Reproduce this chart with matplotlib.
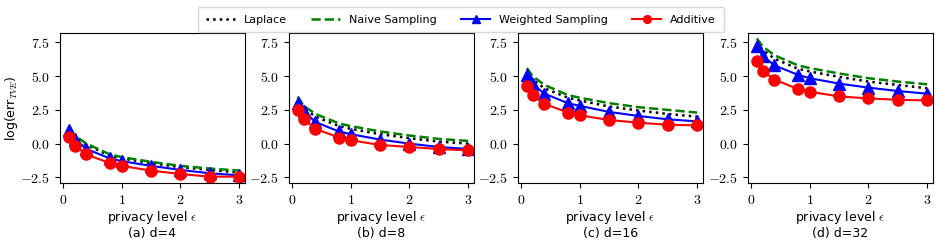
import numpy as np
import matplotlib
matplotlib.use('Agg')
import matplotlib.pyplot as plt
from matplotlib.ticker import FuncFormatter

plt.rcParams['mathtext.fontset'] = 'cm'
plt.rcParams['font.size'] = 9

eps = [0.1, 0.2, 0.4, 0.8, 1.0, 1.5, 2.0, 2.5, 3.0]
panels = ['(a) d=4', '(b) d=8', '(c) d=16', '(d) d=32']

laplace = [
    [0.95, 0.5, -0.1, -0.9, -1.1, -1.45, -1.75, -1.95, -2.15],
    [3.3, 2.6, 2.0, 1.3, 1.1, 0.7, 0.4, 0.15, 0.0],
    [5.35, 4.75, 4.1, 3.4, 3.2, 2.75, 2.45, 2.2, 2.0],
    [7.55, 6.95, 6.3, 5.55, 5.35, 4.95, 4.6, 4.35, 4.1],
]
naive = [
    [1.05, 0.6, 0.0, -0.8, -1.0, -1.35, -1.65, -1.85, -2.0],
    [3.5, 2.8, 2.2, 1.5, 1.3, 0.9, 0.6, 0.35, 0.2],
    [5.6, 5.0, 4.35, 3.6, 3.4, 3.0, 2.7, 2.5, 2.3],
    [7.8, 7.2, 6.55, 5.8, 5.6, 5.2, 4.85, 4.6, 4.4],
]
weighted = [
    [1.0, 0.35, -0.4, -1.1, -1.3, -1.65, -1.95, -2.2, -2.35],
    [3.0, 2.4, 1.6, 0.9, 0.7, 0.3, 0.0, -0.25, -0.4],
    [5.05, 4.4, 3.7, 3.0, 2.8, 2.35, 2.05, 1.8, 1.65],
    [7.2, 6.5, 5.8, 5.1, 4.85, 4.45, 4.15, 3.9, 3.7],
]
additive = [
    [0.5, -0.15, -0.8, -1.45, -1.65, -2.0, -2.25, -2.45, -2.45],
    [2.5, 1.8, 1.1, 0.45, 0.25, -0.1, -0.25, -0.4, -0.5],
    [4.3, 3.6, 2.95, 2.3, 2.1, 1.75, 1.55, 1.4, 1.35],
    [6.1, 5.4, 4.75, 4.05, 3.85, 3.5, 3.35, 3.25, 3.2],
]

fig = plt.figure(figsize=(9.37, 2.4), dpi=100)
lefts = [60, 289, 518, 748]
axes = []
for i in range(4):
    ax = fig.add_axes([lefts[i] / 937, 1 - 183 / 240, 185 / 937, 150 / 240])
    ax.plot(eps, laplace[i], ':', color='black', lw=1.8, label='Laplace')
    ax.plot(eps, naive[i], '--', color='green', lw=1.8, label='Naive Sampling')
    ax.plot(eps, weighted[i], '-', color='blue', lw=1.5, marker='^', ms=8, label='Weighted Sampling')
    ax.plot(eps, additive[i], '-', color='red', lw=1.5, marker='o', ms=8, label='Additive')
    ax.set_xlim(-0.05, 3.1)
    ax.set_ylim(-2.92, 8.2)
    ax.set_xticks([0, 1, 2, 3])
    ax.set_yticks([-2.5, 0.0, 2.5, 5.0, 7.5])
    ax.xaxis.set_major_formatter(FuncFormatter(lambda v, p: '$\\mathrm{%d}$' % v))
    ax.yaxis.set_major_formatter(FuncFormatter(lambda v, p: '$\\mathrm{%.1f}$' % v))
    ax.tick_params(labelsize=10)
    ax.set_xlabel('privacy level $\\epsilon$\n' + panels[i], labelpad=2, linespacing=1.1)
    axes.append(ax)

axes[0].set_ylabel('log(err$_{TVE}$)')
axes[0].yaxis.set_label_coords(-0.215, 0.5)
h, l = axes[0].get_legend_handles_labels()
fig.legend(h, l, loc='upper center', ncol=4, bbox_to_anchor=(0.492, 0.995), frameon=True,
           fontsize=8, markerscale=0.7, handlelength=2.6, columnspacing=2.2, borderpad=0.7)

fig.savefig('out.png', dpi=100)
